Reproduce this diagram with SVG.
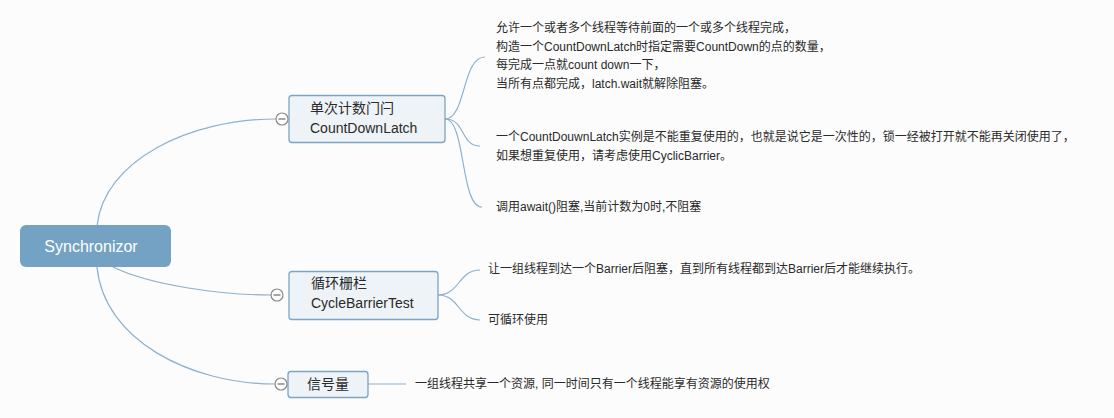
<svg xmlns="http://www.w3.org/2000/svg" width="1114" height="418" viewBox="0 0 1114 418">
<style>
.bg{fill:#fcfcfc}
.conn{fill:none;stroke:#8db1cd;stroke-width:1.2}
.topic{fill:#eef3f7;stroke:#7ea4c4;stroke-width:1.3}
.t{font-family:"Liberation Sans","Noto Sans CJK SC",sans-serif;fill:#2a2a2a}
.leaf{font-size:12px}
.node{font-size:14px}
.col{fill:#fff;stroke:#888;stroke-width:1.2}
.minus{stroke:#888;stroke-width:1.5}
</style>
<rect class="bg" x="0" y="0" width="1114" height="418"/>
<g id="connectors">
<path class="conn" d="M97,226 C104,160 190,119 276,119"/>
<path class="conn" d="M113,267 C150,285 220,295 271,295"/>
<path class="conn" d="M97,267 C104,340 190,384 275,384"/>
<path class="conn" d="M445,119 C466,119 462,57 485,57"/>
<path class="conn" d="M445,119 C466,119 460,146 480,146"/>
<path class="conn" d="M445,119 C466,119 460,207 482,207"/>
<path class="conn" d="M438,295 C460,295 458,270 480,270"/>
<path class="conn" d="M438,295 C460,295 458,320 480,320"/>
<path class="conn" d="M368,384 L406,384"/>
</g>
<g id="root">
<rect x="20" y="225" width="151" height="42" rx="6" fill="#74a2c3"/>
<text class="t" x="91" y="251.5" font-size="16" text-anchor="middle" style="fill:#fff">Synchronizor</text>
</g>
<g id="node-countdownlatch">
<rect class="topic" x="289" y="95.5" width="156" height="47" rx="3"/>
<text class="t node" x="310" y="113">单次计数门闩</text>
<text class="t node" x="310" y="133">CountDownLatch</text>
<circle class="col" cx="282" cy="119" r="6"/>
<line class="minus" x1="278.5" y1="119" x2="285.5" y2="119"/>
</g>
<g id="node-cyclebarrier">
<rect class="topic" x="289" y="271.5" width="149" height="48" rx="3"/>
<text class="t node" x="311" y="288">循环栅栏</text>
<text class="t node" x="311" y="308">CycleBarrierTest</text>
<circle class="col" cx="277" cy="295" r="6"/>
<line class="minus" x1="273.5" y1="295" x2="280.5" y2="295"/>
</g>
<g id="node-semaphore">
<rect class="topic" x="288" y="371.5" width="80" height="26" rx="3"/>
<text class="t node" x="328" y="389" text-anchor="middle">信号量</text>
<circle class="col" cx="281" cy="384" r="6"/>
<line class="minus" x1="277.5" y1="384" x2="284.5" y2="384"/>
</g>
<g id="leaf-cdl-1">
<text class="t leaf" x="496" y="32">允许一个或者多个线程等待前面的一个或多个线程完成，</text>
<text class="t leaf" x="496" y="51">构造一个CountDownLatch时指定需要CountDown的点的数量，</text>
<text class="t leaf" x="496" y="69">每完成一点就count down一下，</text>
<text class="t leaf" x="496" y="88">当所有点都完成，latch.wait就解除阻塞。</text>
</g>
<g id="leaf-cdl-2">
<text class="t leaf" x="496" y="141">一个CountDouwnLatch实例是不能重复使用的，也就是说它是一次性的，锁一经被打开就不能再关闭使用了，</text>
<text class="t leaf" x="496" y="160">如果想重复使用，请考虑使用CyclicBarrier。</text>
</g>
<g id="leaf-cdl-3">
<text class="t leaf" x="496" y="211">调用await()阻塞,当前计数为0时,不阻塞</text>
</g>
<g id="leaf-cb-1">
<text class="t leaf" x="488" y="273">让一组线程到达一个Barrier后阻塞，直到所有线程都到达Barrier后才能继续执行。</text>
</g>
<g id="leaf-cb-2">
<text class="t leaf" x="488" y="324">可循环使用</text>
</g>
<g id="leaf-sem-1">
<text class="t leaf" x="415" y="388">一组线程共享一个资源, 同一时间只有一个线程能享有资源的使用权</text>
</g>
</svg>
